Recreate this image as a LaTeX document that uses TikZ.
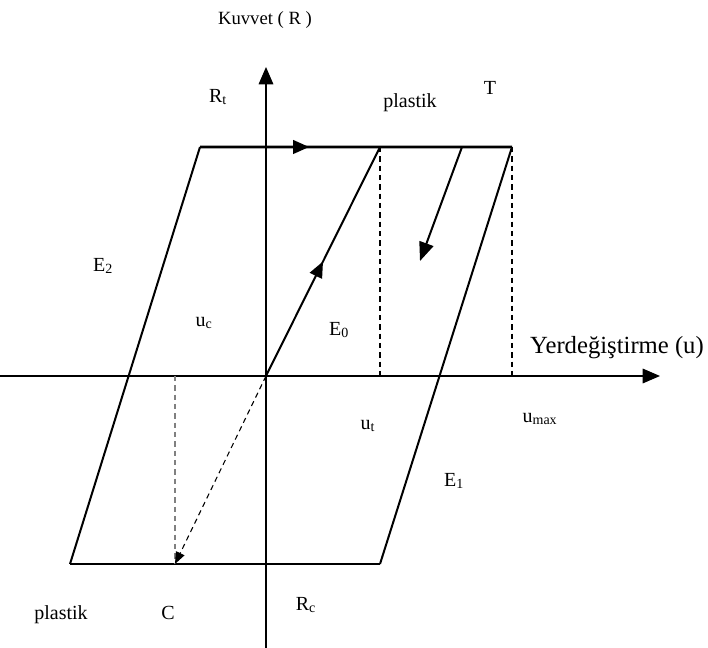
\documentclass[tikz,border=0pt]{standalone}
\usepackage{fontspec}
\setmainfont{Liberation Serif}
\usetikzlibrary{arrows.meta, calc, positioning}

\begin{document}
\begin{tikzpicture}[x=0.75pt, y=-0.75pt,
    lbl/.style={font=\fontsize{15}{18}\selectfont, inner sep=0pt},
    axis/.style={line width=0.9pt, -{Triangle[length=13pt, width=11pt]}},
    edge/.style={line width=1.5pt},
    flat/.style={line width=2.1pt},
    guide/.style={line width=0.8pt, dashed, dash pattern=on 4pt off 3pt},
    head/.style={-{Triangle[length=12pt, width=10pt]}}]

    \useasboundingbox (0,0) rectangle (708,648);

    % Define points
    \coordinate (O) at (266,376);
    \coordinate (xl) at (0,376);
    \coordinate (xr) at (660,376);
    \coordinate (yb) at (266,648);
    \coordinate (yt) at (266,67);
    \coordinate (tl) at (200,147);
    \coordinate (ty) at (380,147);
    \coordinate (tu) at (462,147);
    \coordinate (tr) at (512,147);
    \coordinate (bl) at (70,564);
    \coordinate (bc) at (175,564);
    \coordinate (br) at (380,564);
    \coordinate (ty0) at (380,376);
    \coordinate (tr0) at (512,376);
    \coordinate (bc0) at (175,376);
    \coordinate (uend) at (420,261);

    % Draw axes
    \draw[axis] (xl) -- (xr);
    \draw[axis] (yb) -- (yt);

    % Draw loop
    \draw[flat, head] (tl) -- ($(tl)!0.35!(tr)$);
    \draw[flat] ($(tl)!0.33!(tr)$) -- (tr);
    \draw[flat] (bl) -- (br);
    \draw[edge] (tl) -- (bl);
    \draw[edge] (tr) -- (br);
    \draw[edge, head] (O) -- ($(O)!0.5!(ty)$);
    \draw[edge] ($(O)!0.48!(ty)$) -- (ty);
    \draw[edge, -{Triangle[length=14pt, width=11pt]}] (tu) -- (uend);

    % Draw guides
    \draw[guide] (ty) -- (ty0);
    \draw[guide] (tr) -- (tr0);
    \draw[guide, gray, line width=1pt] (bc0) -- (bc);
    \draw[guide, -{Triangle[length=9pt, width=7pt]}] (O) -- (bc);

    % Labels
    \node[lbl, font=\fontsize{14}{17}\selectfont] (kuvvet) at (265,20) {Kuvvet ( R )};
    \node[lbl, font=\fontsize{18.5}{22}\selectfont] (yer) at (617,348) {Yerdeğiştirme (u)};
    \node[lbl] (Rt) at (218,97) {R\textsubscript{t}};
    \node[lbl] (plT) at (410,103) {plastik};
    \node[lbl] (T) at (490,88) {T};
    \node[lbl] (E2) at (103,266) {E\textsubscript{2}};
    \node[lbl] (uc) at (204,323) {u\textsubscript{c}};
    \node[lbl] (E0) at (339,330) {E\textsubscript{0}};
    \node[lbl] (ut) at (368,426) {u\textsubscript{t}};
    \node[lbl] (umax) at (540,419) {u\textsubscript{max}};
    \node[lbl] (E1) at (454,481) {E\textsubscript{1}};
    \node[lbl] (plC) at (61,615) {plastik};
    \node[lbl] (C) at (168,613) {C};
    \node[lbl] (Rc) at (306,605) {R\textsubscript{c}};

\end{tikzpicture}
\end{document}
